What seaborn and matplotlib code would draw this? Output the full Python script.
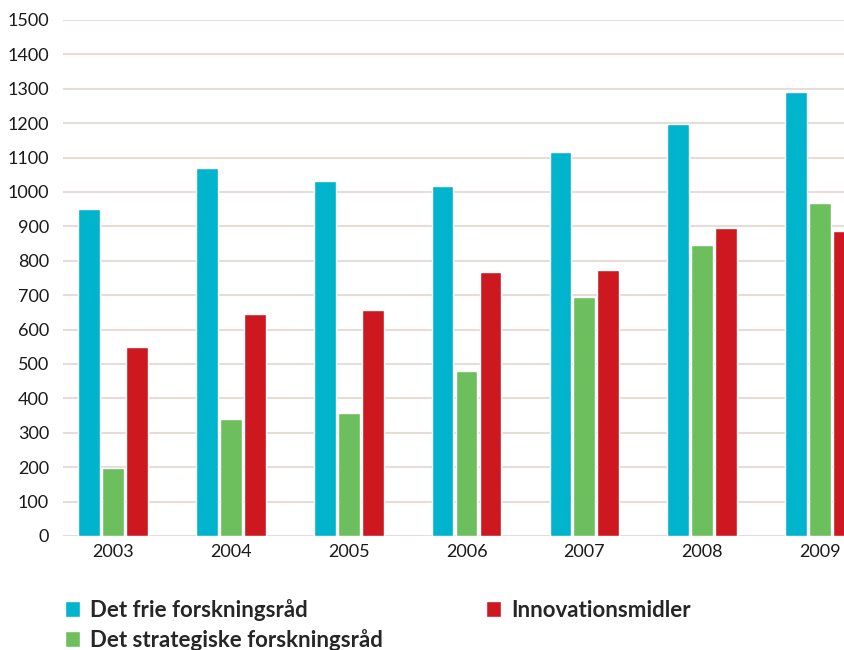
import matplotlib
matplotlib.use("Agg")
import matplotlib.pyplot as plt
import seaborn as sns
import pandas as pd

years = ["2003", "2004", "2005", "2006", "2007", "2008", "2009"]
frie = [951, 1071, 1033, 1018, 1117, 1199, 1292]
strategiske = [199, 341, 359, 481, 696, 847, 969]
innovation = [550, 646, 658, 766, 774, 896, 888]
series_names = ["Det frie forskningsråd", "Det strategiske forskningsråd", "Innovationsmidler"]
yticks = list(range(0, 1501, 100))

colors = ["#00B4CD", "#6CBF5C", "#CD1820"]

df = pd.DataFrame({
    "year": years * 3,
    "value": frie + strategiske + innovation,
    "series": [series_names[0]] * 7 + [series_names[1]] * 7 + [series_names[2]] * 7,
})

sns.set_theme(style="white")
plt.rcParams["font.family"] = ["Lato", "DejaVu Sans"]

fig = plt.figure(figsize=(8.44, 6.5), dpi=100)
ax = fig.add_axes([63 / 844, (650 - 536) / 650, 1 - 63 / 844, (536 - 20) / 650])

sns.barplot(data=df, x="year", y="value", hue="series", palette=colors,
            width=0.61, gap=0.09, ax=ax, saturation=1, legend=False, errorbar=None)

ax.set_ylim(0, 1500)
ax.set_xlim(-0.424, 6.203)
ax.set_yticks(yticks)
ax.set_yticklabels([str(t) for t in yticks], fontsize=13, color="#1a1a1a")
ax.tick_params(axis="x", labelsize=13, colors="#1a1a1a", length=0, pad=6)
ax.tick_params(axis="y", length=0, pad=10)
ax.set_xlabel("")
ax.set_ylabel("")
for s in ax.spines.values():
    s.set_visible(False)
ax.set_axisbelow(True)
ax.yaxis.grid(True, color="#E6DDD8", linewidth=1.5)
ax.xaxis.grid(False)

from matplotlib.patches import Patch
handles = [Patch(facecolor=colors[0]), Patch(facecolor=colors[1]), Patch(facecolor=colors[2])]
fig.legend(handles, series_names, ncol=2, loc="upper left",
           bbox_to_anchor=(56 / 844, 1 - 590 / 650), frameon=False,
           prop={"size": 16, "weight": "bold"}, handlelength=0.7, handleheight=0.7,
           handletextpad=0.45, columnspacing=4.6, labelspacing=0.35, borderaxespad=0)

fig.savefig("out.png", dpi=100)
